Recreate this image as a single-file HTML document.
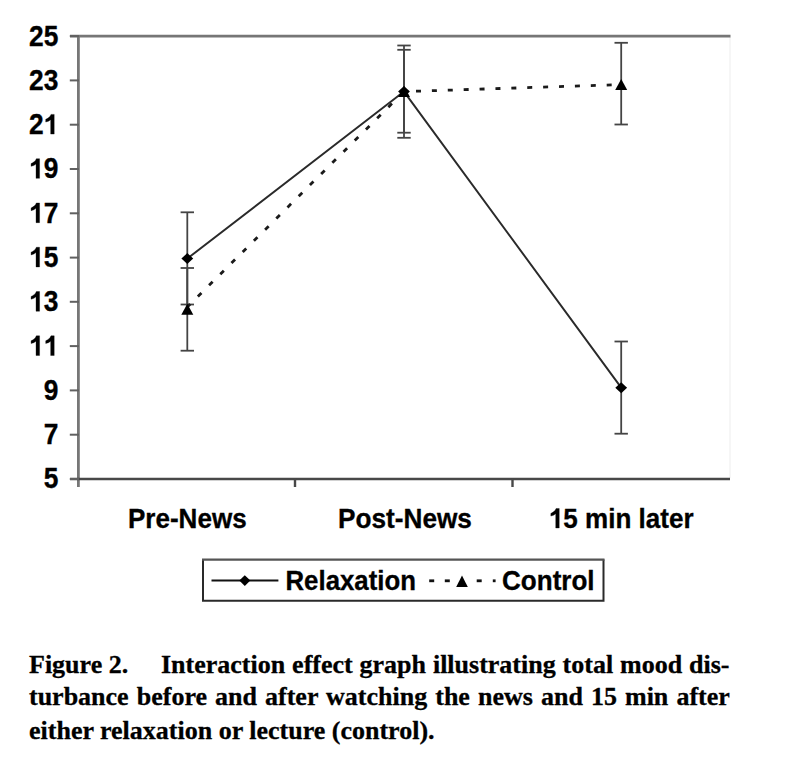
<!DOCTYPE html>
<html><head><meta charset="utf-8"><style>
html,body{margin:0;padding:0;background:#fff;}
body{width:800px;height:771px;position:relative;overflow:hidden;}
svg{position:absolute;left:0;top:0;}
.one{fill:transparent;stroke:transparent;}
.yl{font-family:"Liberation Sans",sans-serif;font-weight:bold;font-size:25.8px;fill:#000;stroke:#000;stroke-width:0.3px;}
.cap{position:absolute;left:29px;font-family:"Liberation Serif",serif;font-weight:bold;font-size:26px;color:#000;white-space:nowrap;line-height:32px;-webkit-text-stroke:0.3px #000;}
</style></head><body>
<svg width="800" height="771" viewBox="0 0 800 771">
<line x1="730" y1="37" x2="730" y2="478" stroke="#f2f2f2" stroke-width="1.3"/>
<line x1="70" y1="36.1" x2="730.5" y2="36.1" stroke="#767676" stroke-width="2.8"/>
<line x1="78.4" y1="35" x2="78.4" y2="487" stroke="#767676" stroke-width="2.8"/>
<line x1="70" y1="479" x2="730" y2="479" stroke="#484848" stroke-width="2.4"/>
<line x1="69.8" y1="479.0" x2="79" y2="479.0" stroke="#606060" stroke-width="2"/>
<g transform="translate(58.30,488.40) scale(1.02,1.11)"><text class="yl" text-anchor="end">5</text></g>
<line x1="69.8" y1="434.7" x2="79" y2="434.7" stroke="#606060" stroke-width="2"/>
<g transform="translate(58.30,444.11) scale(1.02,1.11)"><text class="yl" text-anchor="end">7</text></g>
<line x1="69.8" y1="390.4" x2="79" y2="390.4" stroke="#606060" stroke-width="2"/>
<g transform="translate(58.30,399.82) scale(1.02,1.11)"><text class="yl" text-anchor="end">9</text></g>
<line x1="69.8" y1="346.1" x2="79" y2="346.1" stroke="#606060" stroke-width="2"/>
<g transform="translate(58.30,355.53) scale(1.02,1.11)"><text class="yl" text-anchor="end"><tspan class="one">1</tspan><tspan class="one">1</tspan></text><path transform="translate(-28.701,0) scale(0.012598,-0.012598)" d="M821 0L545 0L545 1030Q400 900 160 860L160 1055Q270 1090 395 1185Q520 1280 570 1409L821 1409Z" fill="#000" stroke="#000" stroke-width="23.8"/><path transform="translate(-14.350,0) scale(0.012598,-0.012598)" d="M821 0L545 0L545 1030Q400 900 160 860L160 1055Q270 1090 395 1185Q520 1280 570 1409L821 1409Z" fill="#000" stroke="#000" stroke-width="23.8"/></g>
<line x1="69.8" y1="301.8" x2="79" y2="301.8" stroke="#606060" stroke-width="2"/>
<g transform="translate(58.30,311.24) scale(1.02,1.11)"><text class="yl" text-anchor="end"><tspan class="one">1</tspan>3</text><path transform="translate(-28.701,0) scale(0.012598,-0.012598)" d="M821 0L545 0L545 1030Q400 900 160 860L160 1055Q270 1090 395 1185Q520 1280 570 1409L821 1409Z" fill="#000" stroke="#000" stroke-width="23.8"/></g>
<line x1="69.8" y1="257.6" x2="79" y2="257.6" stroke="#606060" stroke-width="2"/>
<g transform="translate(58.30,266.95) scale(1.02,1.11)"><text class="yl" text-anchor="end"><tspan class="one">1</tspan>5</text><path transform="translate(-28.701,0) scale(0.012598,-0.012598)" d="M821 0L545 0L545 1030Q400 900 160 860L160 1055Q270 1090 395 1185Q520 1280 570 1409L821 1409Z" fill="#000" stroke="#000" stroke-width="23.8"/></g>
<line x1="69.8" y1="213.3" x2="79" y2="213.3" stroke="#606060" stroke-width="2"/>
<g transform="translate(58.30,222.66) scale(1.02,1.11)"><text class="yl" text-anchor="end"><tspan class="one">1</tspan>7</text><path transform="translate(-28.701,0) scale(0.012598,-0.012598)" d="M821 0L545 0L545 1030Q400 900 160 860L160 1055Q270 1090 395 1185Q520 1280 570 1409L821 1409Z" fill="#000" stroke="#000" stroke-width="23.8"/></g>
<line x1="69.8" y1="169.0" x2="79" y2="169.0" stroke="#606060" stroke-width="2"/>
<g transform="translate(58.30,178.37) scale(1.02,1.11)"><text class="yl" text-anchor="end"><tspan class="one">1</tspan>9</text><path transform="translate(-28.701,0) scale(0.012598,-0.012598)" d="M821 0L545 0L545 1030Q400 900 160 860L160 1055Q270 1090 395 1185Q520 1280 570 1409L821 1409Z" fill="#000" stroke="#000" stroke-width="23.8"/></g>
<line x1="69.8" y1="124.7" x2="79" y2="124.7" stroke="#606060" stroke-width="2"/>
<g transform="translate(58.30,134.08) scale(1.02,1.11)"><text class="yl" text-anchor="end">2<tspan class="one">1</tspan></text><path transform="translate(-14.350,0) scale(0.012598,-0.012598)" d="M821 0L545 0L545 1030Q400 900 160 860L160 1055Q270 1090 395 1185Q520 1280 570 1409L821 1409Z" fill="#000" stroke="#000" stroke-width="23.8"/></g>
<line x1="69.8" y1="80.4" x2="79" y2="80.4" stroke="#606060" stroke-width="2"/>
<g transform="translate(58.30,89.79) scale(1.02,1.11)"><text class="yl" text-anchor="end">23</text></g>
<line x1="69.8" y1="36.1" x2="79" y2="36.1" stroke="#606060" stroke-width="2"/>
<g transform="translate(58.30,45.50) scale(1.02,1.11)"><text class="yl" text-anchor="end">25</text></g>
<line x1="295.0" y1="478" x2="295.0" y2="487" stroke="#484848" stroke-width="2.4"/>
<line x1="512.5" y1="478" x2="512.5" y2="487" stroke="#484848" stroke-width="2.4"/>
<g transform="translate(187.30,528.00) scale(1.01,1.1)"><text class="yl" text-anchor="middle">Pre-News</text></g>
<g transform="translate(405.00,528.00) scale(1.015,1.1)"><text class="yl" text-anchor="middle">Post-News</text></g>
<g transform="translate(621.20,528.00) scale(1.01,1.1)"><text class="yl" text-anchor="middle"><tspan class="one">1</tspan>5 min later</text><path transform="translate(-71.684,0) scale(0.012598,-0.012598)" d="M821 0L545 0L545 1030Q400 900 160 860L160 1055Q270 1090 395 1185Q520 1280 570 1409L821 1409Z" fill="#000" stroke="#000" stroke-width="23.8"/></g>
<line x1="187.3" y1="212.3" x2="187.3" y2="304.5" stroke="#444" stroke-width="1.8"/>
<line x1="180.60000000000002" y1="212.3" x2="194.0" y2="212.3" stroke="#444" stroke-width="1.8"/>
<line x1="180.60000000000002" y1="304.5" x2="194.0" y2="304.5" stroke="#444" stroke-width="1.8"/>
<line x1="187.3" y1="268.0" x2="187.3" y2="350.7" stroke="#444" stroke-width="1.8"/>
<line x1="180.60000000000002" y1="268.0" x2="194.0" y2="268.0" stroke="#444" stroke-width="1.8"/>
<line x1="180.60000000000002" y1="350.7" x2="194.0" y2="350.7" stroke="#444" stroke-width="1.8"/>
<line x1="404.0" y1="45.5" x2="404.0" y2="132.7" stroke="#444" stroke-width="1.8"/>
<line x1="397.3" y1="45.5" x2="410.7" y2="45.5" stroke="#444" stroke-width="1.8"/>
<line x1="397.3" y1="132.7" x2="410.7" y2="132.7" stroke="#444" stroke-width="1.8"/>
<line x1="404.0" y1="49.8" x2="404.0" y2="137.8" stroke="#444" stroke-width="1.8"/>
<line x1="397.3" y1="49.8" x2="410.7" y2="49.8" stroke="#444" stroke-width="1.8"/>
<line x1="397.3" y1="137.8" x2="410.7" y2="137.8" stroke="#444" stroke-width="1.8"/>
<line x1="621.2" y1="42.8" x2="621.2" y2="124.5" stroke="#444" stroke-width="1.8"/>
<line x1="614.5" y1="42.8" x2="627.9000000000001" y2="42.8" stroke="#444" stroke-width="1.8"/>
<line x1="614.5" y1="124.5" x2="627.9000000000001" y2="124.5" stroke="#444" stroke-width="1.8"/>
<line x1="621.2" y1="341.5" x2="621.2" y2="433.7" stroke="#444" stroke-width="1.8"/>
<line x1="614.5" y1="341.5" x2="627.9000000000001" y2="341.5" stroke="#444" stroke-width="1.8"/>
<line x1="614.5" y1="433.7" x2="627.9000000000001" y2="433.7" stroke="#444" stroke-width="1.8"/>
<line x1="187.3" y1="307" x2="404.0" y2="91.6" stroke="#1a1a1a" stroke-width="2.8" stroke-dasharray="5 10.8" stroke-dashoffset="0.9"/>
<line x1="404.0" y1="91.6" x2="621.2" y2="84.6" stroke="#1a1a1a" stroke-width="2.8" stroke-dasharray="5 10.9" stroke-dashoffset="3.9"/>
<polyline points="187.3,258.6 404.0,91.6 621.2,387.7" fill="none" stroke="#2a2a2a" stroke-width="1.95" stroke-linejoin="round"/>
<path d="M181.3 314.7 L187.3 303.7 L193.3 314.7Z" fill="#000"/>
<path d="M398.0 97.1 L404.0 86.1 L410.0 97.1Z" fill="#000"/>
<path d="M615.2 90.1 L621.2 79.1 L627.2 90.1Z" fill="#000"/>
<path d="M181.4 258.6 L187.3 253.1 L193.2 258.6 L187.3 264.1Z" fill="#000"/>
<path d="M398.1 91.6 L404.0 86.1 L409.9 91.6 L404.0 97.1Z" fill="#000"/>
<path d="M615.3 387.7 L621.2 382.2 L627.1 387.7 L621.2 393.2Z" fill="#000"/>
<path d="M203 600.7 V559.5 M603.5 559.5 V600.7 M202 600.7 H604.5" fill="none" stroke="#2a2a2a" stroke-width="2"/>
<line x1="202" y1="559.6" x2="604.5" y2="559.6" stroke="#555" stroke-width="2.2"/>
<line x1="211.5" y1="580.6" x2="278.4" y2="580.6" stroke="#111" stroke-width="2"/>
<path d="M239.3 580.6 L244.8 575.3 L250.3 580.6 L244.8 585.9Z" fill="#000"/>
<g transform="translate(285.50,590.20) scale(1.0,1.045)"><text class="yl" text-anchor="start">Relaxation</text></g>
<line x1="429.2" y1="580.8" x2="434.2" y2="580.8" stroke="#111" stroke-width="2.8"/>
<line x1="444.8" y1="580.8" x2="449.8" y2="580.8" stroke="#111" stroke-width="2.8"/>
<line x1="476.7" y1="580.8" x2="481.7" y2="580.8" stroke="#111" stroke-width="2.8"/>
<line x1="492.8" y1="580.8" x2="495.59999999999997" y2="580.8" stroke="#111" stroke-width="2.8"/>
<path d="M456.2 586.9 L462.0 575.5 L467.8 586.9Z" fill="#000"/>
<g transform="translate(502.00,590.20) scale(1.01,1.045)"><text class="yl" text-anchor="start">Control</text></g>
</svg>
<div class="cap" style="top:648.8px;">Figure 2.<span style="position:absolute;left:132px;top:0;width:568.5px;text-align:justify;text-align-last:justify;">Interaction effect graph illustrating total mood dis-</span></div>
<div class="cap" style="top:680.6px;width:700.8px;text-align:justify;text-align-last:justify;">turbance before and after watching the news and 15 min after</div>
<div class="cap" style="top:714.5px;">either relaxation or lecture (control).</div>
</body></html>
